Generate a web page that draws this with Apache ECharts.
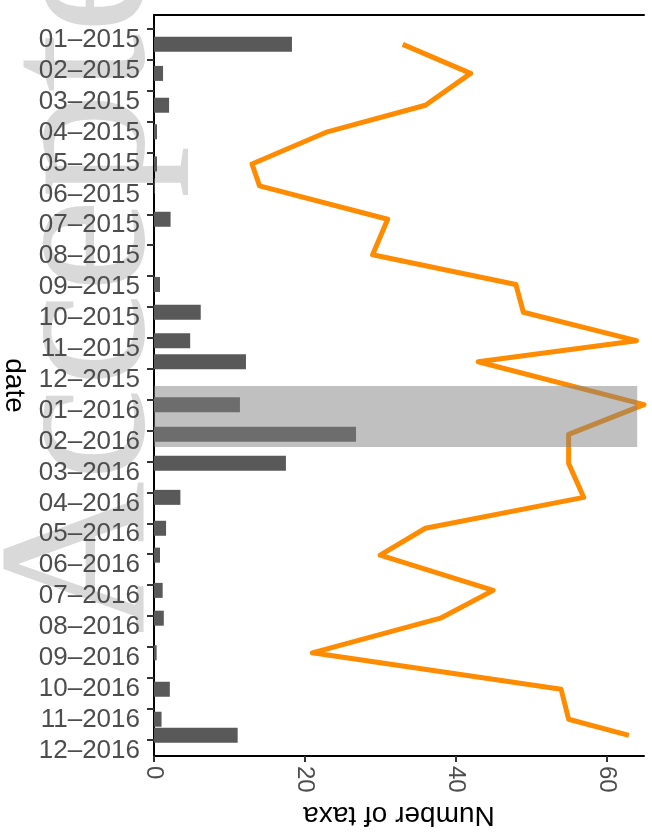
<!DOCTYPE html>
<html>
<head>
<meta charset="utf-8">
<script src="https://cdn.jsdelivr.net/npm/echarts@6/dist/echarts.min.js"></script>
<style>
  html, body { margin: 0; padding: 0; background: #fff; }
  #main { width: 652px; height: 837px; }
</style>
</head>
<body>
<div id="main"></div>
<script>
// month labels on the date axis (tick k = month k after 01-2015)
var monthLabels = ["01–2015", "02–2015", "03–2015", "04–2015", "05–2015", "06–2015",
  "07–2015", "08–2015", "09–2015", "10–2015", "11–2015", "12–2015",
  "01–2016", "02–2016", "03–2016", "04–2016", "05–2016", "06–2016",
  "07–2016", "08–2016", "09–2016", "10–2016", "11–2016", "12–2016"];
var monthTicks = [0, 1, 2, 3, 4, 5, 6, 7, 8, 9, 10, 11, 12, 13, 14, 15, 16, 17, 18, 19, 20, 21, 22, 23];

// sampling dates, in months after 01-2015
var sampleDate = [0.50, 1.44, 2.47, 3.33, 4.37, 5.08, 6.16, 7.31, 8.27, 9.17, 10.09, 10.77,
  12.16, 13.12, 14.06, 15.16, 16.16, 17.03, 18.17, 19.07, 20.19, 21.37, 22.34, 22.86];
// bars
var barTaxa = [18.3, 1.2, 2.0, 0.4, 0.4, 0.1, 2.2, 0, 0.8, 6.2, 4.8, 12.2,
  11.4, 26.8, 17.5, 3.5, 1.6, 0.8, 1.15, 1.3, 0.35, 2.1, 1.0, 11.1];
// orange line
var lineTaxa = [33, 42, 36, 23, 13, 14, 31, 29, 48, 49, 64, 43,
  65, 55, 55, 57, 36, 30, 45, 38, 21, 54, 55, 63];
// shaded period [xFrom, xTo, dateFrom, dateTo]
var band = [[0, 64.1, 11.56, 13.53]];

var xTicks = [0, 20, 40, 60];

var myChart = echarts.init(document.getElementById("main"));

var option = {
  animation: false,
  textStyle: { fontFamily: "Liberation Sans" },
  graphic: [
    {
      type: "text",
      x: 87,
      y: 634,
      rotation: Math.PI / 2,
      z: -10,
      style: {
        text: "Accepted",
        font: "212px 'Liberation Serif'",
        fill: "#d9d9d9",
        textAlign: "left",
        textVerticalAlign: "middle"
      }
    }
  ],
  grid: { left: 154, right: 8, top: 15, bottom: 81, outerBoundsMode: "none" },
  xAxis: [
    {
      type: "value",
      position: "bottom",
      min: 0,
      max: 65,
      name: "Number of taxa",
      nameLocation: "middle",
      nameRotate: 180,
      nameGap: 43,
      nameTextStyle: { fontSize: 28, color: "#000" },
      axisLine: { show: true, onZero: false, lineStyle: { color: "#000", width: 2 } },
      axisTick: { show: true, length: 6, customValues: xTicks, lineStyle: { color: "#333", width: 2 } },
      axisLabel: { rotate: -90, fontSize: 24, color: "#4d4d4d", margin: 10, customValues: xTicks },
      splitLine: { show: false }
    },
    {
      type: "value",
      position: "top",
      min: 0,
      max: 65,
      axisLine: { show: true, onZero: false, lineStyle: { color: "#000", width: 2 } },
      axisTick: { show: false },
      axisLabel: { show: false },
      splitLine: { show: false }
    }
  ],
  yAxis: {
    type: "value",
    inverse: true,
    min: -0.45,
    max: 23.53,
    name: "date",
    nameLocation: "middle",
    nameRotate: -90,
    nameGap: 118,
    nameTextStyle: { fontSize: 28, color: "#000" },
    axisLine: { show: true, onZero: false, lineStyle: { color: "#000", width: 2 } },
    axisTick: { show: true, length: 7, customValues: monthTicks, lineStyle: { color: "#333", width: 2 } },
    axisLabel: {
      customValues: monthTicks,
      fontSize: 26,
      color: "#4d4d4d",
      margin: 14,
      verticalAlign: "top",
      lineHeight: 22,
      formatter: function (v) {
        return monthLabels[Math.round(v)];
      }
    },
    splitLine: { show: false }
  },
  series: [
    {
      name: "bars",
      type: "custom",
      z: 2,
      data: sampleDate.map(function (d, i) { return [barTaxa[i], d]; }),
      encode: { x: 0, y: 1 },
      renderItem: function (params, api) {
        var a = api.coord([0, api.value(1)]);
        var b = api.coord([api.value(0), api.value(1)]);
        var h = 15;
        return {
          type: "rect",
          shape: { x: a[0], y: a[1] - h / 2, width: b[0] - a[0], height: h },
          style: { fill: "#595959" }
        };
      }
    },
    {
      name: "taxa",
      type: "line",
      z: 3,
      data: sampleDate.map(function (d, i) { return [lineTaxa[i], d]; }),
      showSymbol: false,
      lineStyle: { color: "#ff8c00", width: 5, join: "round" }
    },
    {
      name: "band",
      type: "custom",
      z: 4,
      data: band,
      encode: { x: [0, 1], y: [2, 3] },
      renderItem: function (params, api) {
        var a = api.coord([api.value(0), api.value(2)]);
        var b = api.coord([api.value(1), api.value(3)]);
        return {
          type: "rect",
          shape: { x: a[0], y: a[1], width: b[0] - a[0], height: b[1] - a[1] },
          style: { fill: "rgba(130,130,130,0.5)" }
        };
      }
    }
  ]
};

myChart.setOption(option);
</script>
</body>
</html>
